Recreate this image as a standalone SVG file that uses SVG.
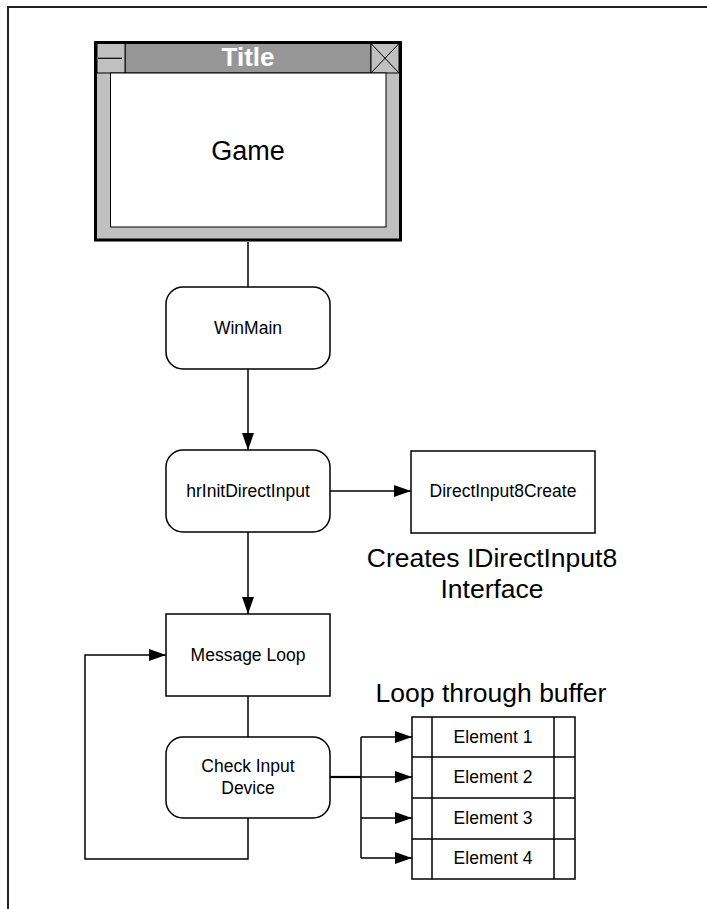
<svg xmlns="http://www.w3.org/2000/svg" width="707" height="909" viewBox="0 0 707 909">
<style>
  .t { font-family: "Liberation Sans", Arial, sans-serif; fill: #000; text-anchor: middle; }
  .n { font-size: 17.5px; }
  .big { font-size: 26.5px; }
  .box { fill: #fff; stroke: #000; stroke-width: 1.5; }
  .ln { fill: none; stroke: #000; stroke-width: 1.5; }
</style>
<defs>
  <marker id="ah" viewBox="0 0 17 12" refX="17" refY="6" markerWidth="17" markerHeight="12" markerUnits="userSpaceOnUse" orient="auto">
    <path d="M0,0 L17,6 L0,12 Z" fill="#000"/>
  </marker>
</defs>
<rect width="707" height="909" fill="#fff"/>
<g id="frame">
  <path d="M8,909 L8,7 L707,7" fill="none" stroke="#222" stroke-width="2"/>
</g>
<g id="connectors">
  <path class="ln" d="M248,242 L248,287"/>
  <path class="ln" d="M248,369 L248,450" marker-end="url(#ah)"/>
  <path class="ln" d="M330,491 L411,491" marker-end="url(#ah)"/>
  <path class="ln" d="M248,532 L248,614" marker-end="url(#ah)"/>
  <path class="ln" d="M248,696 L248,737"/>
  <path class="ln" d="M248,818 L248,859 L85,859 L85,655 L166,655" marker-end="url(#ah)"/>
  <path fill="none" stroke="#000" stroke-width="2.2" d="M330,777 L361,777"/>
  <path class="ln" d="M361,737 L361,858"/>
  <path class="ln" d="M361,737 L412,737" marker-end="url(#ah)"/>
  <path class="ln" d="M361,777 L412,777" marker-end="url(#ah)"/>
  <path class="ln" d="M361,818 L412,818" marker-end="url(#ah)"/>
  <path class="ln" d="M361,858 L412,858" marker-end="url(#ah)"/>
</g>
<g id="game">
  <rect x="95.5" y="42.5" width="305" height="197.5" fill="#c0c0c0" stroke="#000" stroke-width="3"/>
  <rect x="125" y="43.5" width="246" height="29.5" fill="#969696" stroke="#000" stroke-width="1"/>
  <rect x="97" y="43.5" width="28" height="29.5" fill="#c0c0c0" stroke="#000" stroke-width="1"/>
  <path d="M98,58.3 L122,58.3" stroke="#000" stroke-width="1.2"/>
  <rect x="371" y="43.5" width="28" height="29.5" fill="#c0c0c0" stroke="#000" stroke-width="1"/>
  <path d="M371,43.5 L399,73 M399,43.5 L371,73" stroke="#000" stroke-width="1"/>
  <rect x="110.5" y="73" width="275.5" height="154" fill="#fff" stroke="#000" stroke-width="1"/>
  <text class="t" x="248" y="66" font-size="26" font-weight="bold" fill="#fff" style="fill:#fff">Title</text>
  <text class="t" x="248" y="160" font-size="27">Game</text>
</g>
<g id="winmain">
  <rect class="box" x="166" y="287" width="164" height="82" rx="17"/>
  <text class="t n" x="248" y="334">WinMain</text>
</g>
<g id="hrinit">
  <rect class="box" x="166" y="450" width="164" height="82" rx="17"/>
  <text class="t n" x="248" y="497">hrInitDirectInput</text>
</g>
<g id="di8create">
  <rect class="box" x="411" y="451" width="184" height="82"/>
  <text class="t n" x="503" y="497">DirectInput8Create</text>
</g>
<g id="creates-label">
  <text class="t big" x="492" y="567">Creates IDirectInput8</text>
  <text class="t big" x="492" y="598">Interface</text>
</g>
<g id="msgloop">
  <rect class="box" x="166" y="614" width="164" height="82"/>
  <text class="t n" x="248" y="661">Message Loop</text>
</g>
<g id="checkinput">
  <rect class="box" x="166" y="737" width="164" height="81" rx="17"/>
  <text class="t n" x="248" y="772">Check Input</text>
  <text class="t n" x="248" y="794">Device</text>
</g>
<g id="buffer-label">
  <text class="t big" x="491" y="702">Loop through buffer</text>
</g>
<g id="buffer">
  <rect class="box" x="412" y="717" width="163" height="162"/>
  <path class="ln" d="M412,757 L575,757 M412,798 L575,798 M412,839 L575,839 M432,717 L432,879 M554,717 L554,879"/>
  <text class="t n" x="493" y="743">Element 1</text>
  <text class="t n" x="493" y="783">Element 2</text>
  <text class="t n" x="493" y="824">Element 3</text>
  <text class="t n" x="493" y="864">Element 4</text>
</g>
</svg>
